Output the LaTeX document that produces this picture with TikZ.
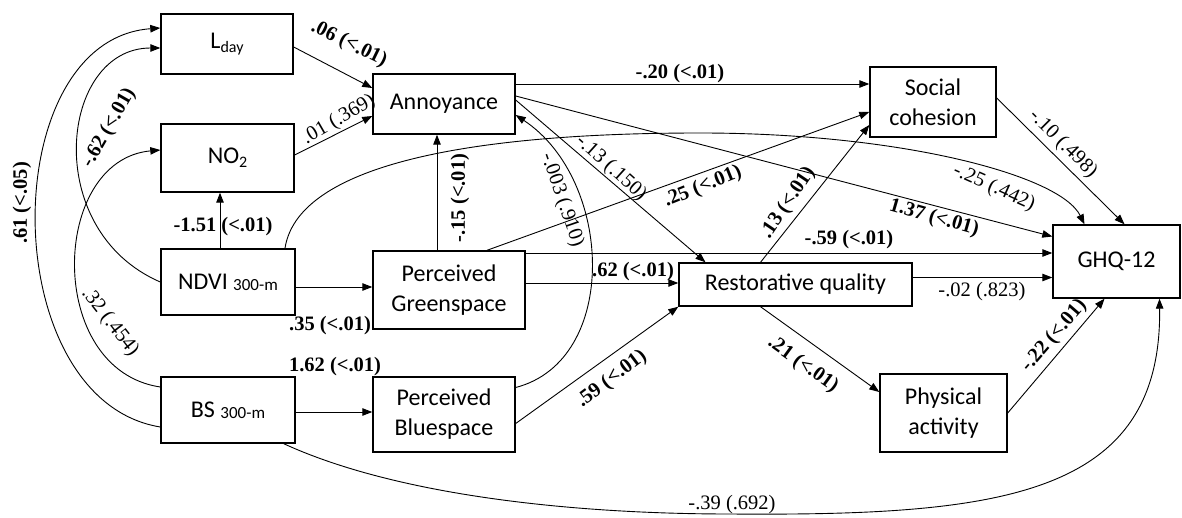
\documentclass[tikz,border=0pt]{standalone}
\usepackage{fontspec}
\setmainfont{Liberation Serif}
\newfontfamily\boxfont{Carlito}
\usetikzlibrary{arrows.meta}
\begin{document}
\begin{tikzpicture}[x=1pt,y=1pt,
  box/.style={draw, line width=1.4pt, inner sep=0pt, align=center, font=\boxfont\fontsize{24}{30}\selectfont},
  arr/.style={line width=0.9pt, -{Triangle[length=10pt,width=7.5pt]}},
  lb/.style={font=\fontsize{20.5}{20.5}\selectfont\bfseries, inner sep=0pt},
  ln/.style={font=\fontsize{20.5}{20.5}\selectfont, inner sep=0pt}]
\fill[white] (0,0) rectangle (1182,517);
\useasboundingbox (0,0) rectangle (1182,517);
% boxes
\node[box, minimum width=132, minimum height=60] (lday) at (227,473) {L{\fontsize{16}{16}\selectfont\raisebox{-4pt}{day}}};
\node[box, minimum width=133, minimum height=68] (no2) at (227.5,359) {NO{\fontsize{16}{16}\selectfont\raisebox{-4pt}{2}}};
\node[box, minimum width=134, minimum height=66] (ndvi) at (228,235) {NDVI {\fontsize{17}{17}\selectfont\raisebox{-1pt}{300-m}}};
\node[box, minimum width=134, minimum height=66] (bs) at (228,107) {BS {\fontsize{17}{17}\selectfont\raisebox{-1pt}{300-m}}};
\node[box, minimum width=142, minimum height=60] (ann) at (444,413) {Annoyance};
\node[box, minimum width=152, minimum height=78] (pg) at (449,227) {Perceived\\Greenspace};
\node[box, minimum width=142, minimum height=75] (pb) at (444,102.5) {Perceived\\Bluespace};
\node[box, minimum width=233, minimum height=43] (rq) at (795.5,232.5) {Restorative quality};
\node[box, minimum width=126, minimum height=70] (sc) at (933,415) {Social\\cohesion};
\node[box, minimum width=127, minimum height=73] (ghq) at (1116.5,255.5) {GHQ-12};
\node[box, minimum width=127, minimum height=78] (pa) at (943.5,104) {Physical\\activity};
% connectors
\draw[arr] ([yshift=-3]lday.east) -- ([yshift=16]ann.west);
\draw[arr] ([yshift=3]no2.east) -- ([yshift=-12]ann.west);
\draw[arr] ([xshift=-8]ndvi.north) -- ([xshift=-8]ndvi.north |- no2.south);
\draw[arr] ([yshift=-5]ndvi.east) -- ([yshift=-5]ndvi.east -| pg.west);
\draw[arr] ([yshift=-2]bs.east) -- ([yshift=-2]bs.east -| pb.west);
\draw[arr] ([xshift=-12]pg.north) -- ([xshift=-12]pg.north |- ann.south);
\draw[arr] ([yshift=27]pb.east) .. controls +(104,27) and +(98,-65) .. ([yshift=-11]ann.east);
\draw[arr] ([yshift=20]ann.east) -- ([yshift=20]ann.east -| sc.west);
\draw[arr] ([yshift=4]ann.east) -- ([xshift=-90]rq.north);
\draw[arr] ([yshift=8]ann.east) -- ([yshift=25]ghq.west);
\draw[arr] ([xshift=57]ndvi.north) .. controls (297,347) and (450,384) .. (700,384) .. controls (900,384) and (1060,342) .. ([xshift=-32]ghq.north);
\draw[arr] ([xshift=38]pg.north) -- ([yshift=-10]sc.west);
\draw[arr] ([yshift=37]pg.east) -- ([yshift=37]pg.east -| ghq.west);
\draw[arr] ([yshift=7]pg.east) -- ([yshift=7]pg.east -| rq.west);
\draw[arr] ([yshift=-9]pb.east) -- (rq.south west);
\draw[arr] ([xshift=-35]rq.north) -- ([yshift=-23]sc.west);
\draw[arr] ([yshift=7]rq.east) -- ([yshift=7]rq.east -| ghq.west);
\draw[arr] ([xshift=-35]rq.south) -- ([yshift=21]pa.west);
\draw[arr] (pa.east) -- ([xshift=-12]ghq.south);
\draw[arr] ([yshift=4]sc.east) -- ([xshift=8]ghq.north);
\draw[arr] ([xshift=-12]bs.south east) .. controls (400,20) and (580,3) .. (730,3) .. controls (1000,1) and (1162,20) .. ([xshift=43]ghq.south);
\draw[arr] ([yshift=-17]bs.west) .. controls (-5,117) and (-5,477) .. ([yshift=16]lday.west);
\draw[arr] (ndvi.west) .. controls (40,287) and (60,469) .. ([yshift=-4]lday.west);
\draw[arr] ([yshift=23]bs.west) .. controls (45,147) and (50,357) .. ([yshift=8]no2.west);
% labels
\node[lb, rotate=-26] (t1) at (349,473) {.06 (<.01)};
\node[ln, rotate=30] (t2) at (339,397) {.01 (.369)};
\node[lb] (t3) at (223,290) {-1.51 (<.01)};
\node[lb] (t4) at (330,191) {.35 (<.01)};
\node[lb] (t5) at (335,150) {1.62 (<.01)};
\node[lb, rotate=90] (t6) at (460,319) {-.15 (<.01)};
\node[ln, rotate=-71] (t7) at (562,317) {-.003 (.910)};
\node[lb] (t8) at (680,443) {-.20 (<.01)};
\node[ln, rotate=-42] (t9) at (611,349) {-.13 (.150)};
\node[lb, rotate=22] (t10) at (703,330) {.25 (<.01)};
\node[lb, rotate=56] (t11) at (788,314) {.13 (<.01)};
\node[lb] (t12) at (849,277) {-.59 (<.01)};
\node[lb] (t13) at (633,245) {.62 (<.01)};
\node[lb, rotate=-16] (t14) at (934,299) {1.37 (<.01)};
\node[ln, rotate=-24] (t15) at (994,329) {-.25 (.442)};
\node[ln, rotate=-45] (t16) at (1063,373) {-.10 (.498)};
\node[ln] (t17) at (982,225) {-.02 (.823)};
\node[lb, rotate=37] (t18) at (612,138) {.59 (<.01)};
\node[lb, rotate=-36] (t19) at (803,152) {.21 (<.01)};
\node[lb, rotate=49] (t20) at (1054,181) {-.22 (<.01)};
\node[ln] (t21) at (732,12) {-.39 (.692)};
\node[lb, rotate=90] (t22) at (22,314) {.61 (<.05)};
\node[lb, rotate=60] (t23) at (109,389) {-.62 (<.01)};
\node[ln, rotate=-52] (t24) at (110,195) {.32 (.454)};
\end{tikzpicture}
\end{document}
